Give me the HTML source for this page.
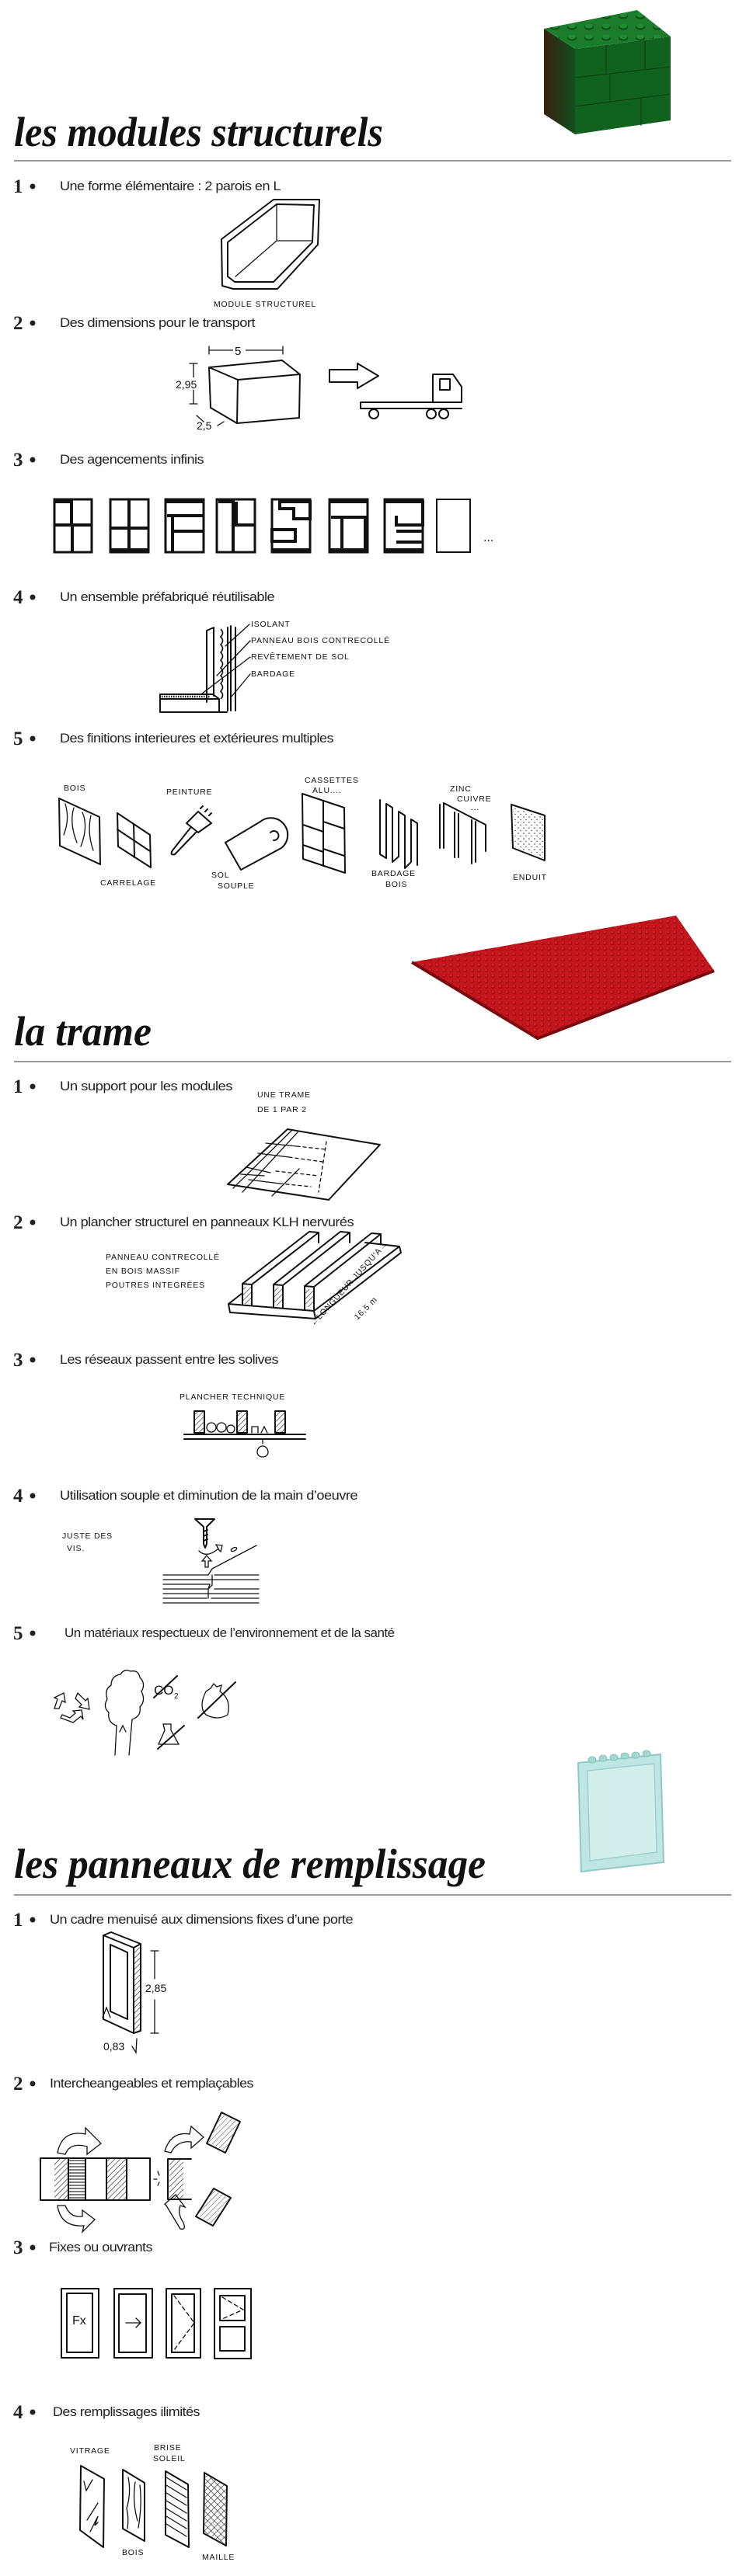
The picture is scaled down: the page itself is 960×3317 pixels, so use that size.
<!DOCTYPE html>
<html><head><meta charset="utf-8">
<style>
html,body{margin:0;padding:0;background:#fff;}
svg{display:block;}
.t{font-family:"Liberation Sans",sans-serif;font-size:17px;fill:#222;letter-spacing:-0.5px;}
.n{font-family:"Liberation Serif",serif;font-weight:bold;font-size:25px;fill:#222;}
.h{font-family:"Liberation Serif",serif;font-style:italic;font-weight:bold;font-size:54px;fill:#111;}
.s{font-family:"Liberation Sans",sans-serif;font-size:10.5px;fill:#111;letter-spacing:0.8px;}
.k{fill:none;stroke:#111;stroke-width:2;stroke-linejoin:round;stroke-linecap:round;}
.k1{fill:none;stroke:#111;stroke-width:1.3;stroke-linecap:round;}
</style></head>
<body>
<svg width="960" height="3317" viewBox="0 0 960 3317" xmlns="http://www.w3.org/2000/svg">
<defs>
<pattern id="gs" width="22" height="14" patternUnits="userSpaceOnUse"><ellipse cx="10" cy="7" rx="6" ry="3.5" fill="#0d4d18"/><ellipse cx="10" cy="5.5" rx="5" ry="3" fill="#1f8a34"/></pattern>
<pattern id="rs" width="9" height="7" patternUnits="userSpaceOnUse"><circle cx="4.5" cy="3.5" r="2.4" fill="#8e0d12"/><circle cx="4.2" cy="3" r="1.8" fill="#d41d24"/></pattern>
<linearGradient id="gl" x1="0" x2="1"><stop offset="0" stop-color="#3a2010"/><stop offset="1" stop-color="#0f4f1c"/></linearGradient>
<pattern id="hat" width="5" height="5" patternUnits="userSpaceOnUse" patternTransform="rotate(45)"><line x1="0" y1="0" x2="0" y2="5" stroke="#111" stroke-width="1.2"/></pattern>
<pattern id="hz" width="5" height="4" patternUnits="userSpaceOnUse"><line x1="0" y1="2" x2="5" y2="2" stroke="#111" stroke-width="1.1"/></pattern>
<pattern id="mesh" width="6" height="6" patternUnits="userSpaceOnUse" patternTransform="rotate(45)"><path d="M0 0V6M0 0H6" stroke="#111" stroke-width="1.2"/></pattern>
<pattern id="dots" width="7" height="7" patternUnits="userSpaceOnUse"><circle cx="2" cy="2" r="0.8" fill="#333"/><circle cx="5" cy="5.5" r="0.7" fill="#333"/></pattern>
</defs>

<!-- ============ SECTION 1 ============ -->
<!-- green brick -->
<polygon points="700,37 740,63 740,173 700,147" fill="url(#gl)"/>
<polygon points="740,63 863,47 863,155 740,173" fill="#12621f"/>
<polygon points="700,37 820,13 863,47 740,63" fill="#1b7d2c"/>
<polygon points="700,37 820,13 863,47 740,63" fill="url(#gs)"/>
<path d="M740,100 L863,86 M740,137 L863,121 M785,95 V132 M830,53 V90 M825,126 V162 M780,58 V96" stroke="#0b3e14" stroke-width="1" fill="none"/>

<text class="h" x="18" y="188" textLength="475" lengthAdjust="spacingAndGlyphs">les modules structurels</text>
<rect x="18" y="206" width="923" height="2" fill="#9a9a9a"/>

<text class="n" x="17" y="248">1</text><circle cx="42" cy="240" r="3.5" fill="#222"/>
<text class="t" x="77" y="245" textLength="284" lengthAdjust="spacingAndGlyphs">Une forme élémentaire : 2 parois en L</text>
<!-- L module -->
<path class="k" d="M285,308 L352,257 L411,257 L409,315 L357,372 L300,372 L286,368 Z"/>
<path class="k" d="M293,312 L356,263 L404,264 L402,312 L352,363 L302,363 L293,356 Z"/>
<path class="k1" d="M356,263 L356,310 L303,356 M356,310 L402,310"/>
<text class="s" x="275" y="395" font-size="9">MODULE STRUCTUREL</text>

<text class="n" x="17" y="424">2</text><circle cx="42" cy="416" r="3.5" fill="#222"/>
<text class="t" x="77" y="421" textLength="251" lengthAdjust="spacingAndGlyphs">Des dimensions pour le transport</text>
<!-- box -->
<path class="k" d="M269,473 L306,489 L386,482 L363,464 Z M269,473 L271,525 L305,545 L385,538 L386,482 M306,489 L305,545"/>
<path class="k1" d="M269,451 H364 M269,446 V456 M364,446 V456 M249,468 V520 M244,468 H254 M244,520 H254 M253,535 L262,543 M280,548 L288,543"/>
<rect x="300" y="442" width="16" height="16" fill="#fff"/>
<text x="302" y="457" font-family="Liberation Sans" font-size="15" fill="#111">5</text>
<rect x="228" y="486" width="36" height="16" fill="#fff"/>
<text x="226" y="500" font-family="Liberation Sans" font-size="14" fill="#111">2,95</text>
<text x="253" y="553" font-family="Liberation Sans" font-size="14" fill="#111">2,5</text>
<!-- arrow -->
<path class="k" d="M424,476 H460 V468 L487,484 L460,500 V492 H424 Z"/>
<!-- truck -->
<path class="k" d="M464,518 H594 V498 L583,482 H557 V518 M464,518 L464,526 H594 M566,488 H579 V502 H566 Z"/>
<circle class="k" cx="481" cy="533" r="6"/><circle class="k" cx="555" cy="533" r="6"/><circle class="k" cx="571" cy="533" r="6"/>

<text class="n" x="17" y="600">3</text><circle cx="42" cy="592" r="3.5" fill="#222"/>
<text class="t" x="77" y="597" textLength="185" lengthAdjust="spacingAndGlyphs">Des agencements infinis</text>
<!-- module arrangements -->
<g stroke="#111" stroke-width="3" fill="none">
<rect x="70" y="643" width="48" height="68"/><path d="M70,646 H92 V676 H70 M93,676 V711 M92,676 H118" stroke-width="4"/>
<rect x="142" y="643" width="49" height="68"/><path d="M166,643 V711 M142,680 H191 M142,708 H191" stroke-width="4"/>
<rect x="213" y="643" width="49" height="68"/><path d="M213,646 H262 M215,664 H262 M222,664 V711 M222,684 H262" stroke-width="4"/>
<rect x="279" y="643" width="49" height="68"/><path d="M281,646 H300 V711 M300,676 H328 M304,646 V676" stroke-width="4"/>
<rect x="350" y="643" width="49" height="68"/><path d="M360,646 H399 V668 H378 V655 H360 Z M350,682 H380 V697 H350 Z M350,708 H399" stroke-width="4"/>
<rect x="424" y="643" width="49" height="68"/><path d="M424,646 H473 M426,666 H470 V711 M440,666 V706 M424,708 H473" stroke-width="4"/>
<rect x="495" y="643" width="49" height="68"/><path d="M495,646 H544 V676 H510 V664 M510,684 H544 M510,698 H544 M495,708 H544" stroke-width="4"/>
<rect x="562" y="643" width="43" height="68" stroke-width="2"/>
</g>
<text x="622" y="697" font-family="Liberation Sans" font-size="16" fill="#111">...</text>

<text class="n" x="17" y="777">4</text><circle cx="42" cy="769" r="3.5" fill="#222"/>
<text class="t" x="77" y="774" textLength="276" lengthAdjust="spacingAndGlyphs">Un ensemble préfabriqué réutilisable</text>
<!-- wall detail -->
<path class="k" d="M266,812 V904 M275,808 V896 M293,808 V915 M297,806 V915 M303,808 V915 M266,812 L275,808"/>
<path d="M284,810 q5,5 0,10 q5,5 0,10 q5,5 0,10 q5,5 0,10 q5,5 0,10 q5,5 0,10 q5,5 0,10 q5,5 0,10 q5,5 0,10" stroke="#111" stroke-width="1.6" fill="none"/>
<path class="k" d="M206,894 H274 M206,900 H282 M206,917 H292 M206,894 V917 M274,894 L282,900 V917"/>
<path d="M208,897 H270" stroke="#111" stroke-width="2.5" stroke-dasharray="1.5 1.5"/>
<path class="k1" d="M321,804 L290,832 M322,825 L279,870 M322,846 L260,893 M322,868 L297,898"/>
<text class="s" x="323" y="807">ISOLANT</text>
<text class="s" x="323" y="828">PANNEAU BOIS CONTRECOLLÉ</text>
<text class="s" x="323" y="849">REVÊTEMENT DE SOL</text>
<text class="s" x="323" y="871">BARDAGE</text>

<text class="n" x="17" y="959">5</text><circle cx="42" cy="951" r="3.5" fill="#222"/>
<text class="t" x="77" y="956" textLength="352" lengthAdjust="spacingAndGlyphs">Des finitions interieures et extérieures multiples</text>
<!-- finishes -->
<text class="s" x="82" y="1018">BOIS</text>
<path class="k" d="M76,1028 L128,1052 L129,1113 L77,1089 Z"/>
<path class="k1" d="M84,1035 q6,20 -2,40 M95,1040 q-6,20 4,45 M106,1046 q8,18 -2,44 M117,1050 q-5,22 3,45"/>
<path class="k" d="M151,1047 L193,1075 L194,1117 L152,1090 Z M151,1068 L193,1096 M172,1061 L173,1104"/>
<text class="s" x="129" y="1140">CARRELAGE</text>
<text class="s" x="214" y="1023">PEINTURE</text>
<path class="k" d="M255,1045 L272,1060 L255,1072 L240,1060 Z M245,1066 L222,1095 Q218,1102 225,1100 L252,1072 M258,1041 l3,-3 M264,1045 l3,-3 M269,1050 l3,-3"/>
<path class="k" d="M290,1085 L335,1058 M310,1120 L362,1092 M290,1085 L310,1120 M335,1058 A14,14 0 1 1 362,1092 M348,1072 a6,6 0 1 1 4,10"/>
<text class="s" x="272" y="1130">SOL</text><text class="s" x="280" y="1144">SOUPLE</text>
<text class="s" x="392" y="1008">CASSETTES</text><text class="s" x="402" y="1021">ALU....</text>
<path class="k" d="M389,1022 L443,1040 L444,1124 L390,1106 Z M416,1031 V1115 M390,1062 L416,1071 M416,1058 L443,1067 M390,1088 L416,1097 M416,1093 L443,1102"/>
<path class="k" d="M489,1030 V1100 L497,1105 V1035 L505,1040 V1110 L513,1103 V1045 L521,1050 V1118 L529,1110 V1055 L537,1060 V1114"/>
<text class="s" x="478" y="1128">BARDAGE</text><text class="s" x="496" y="1142">BOIS</text>
<text class="s" x="579" y="1019">ZINC</text><text class="s" x="588" y="1032">CUIVRE</text><text class="s" x="606" y="1043">...</text>
<path class="k" d="M566,1036 V1092 M571,1034 V1092 M571,1034 L625,1062 M585,1046 V1104 M590,1048 V1104 M607,1056 V1112 M612,1058 V1110 M625,1062 V1096"/>
<path class="k" d="M658,1036 L701,1050 L701,1108 L660,1092 Z"/>
<path d="M660,1040 L699,1052 L699,1105 L662,1090 Z" fill="url(#dots)"/>
<text class="s" x="660" y="1133">ENDUIT</text>

<!-- ============ SECTION 2 ============ -->
<polygon points="530,1239 870,1179 919,1250 692,1337" fill="#c4151c"/>
<polygon points="530,1239 870,1179 919,1250 692,1337" fill="url(#rs)"/>
<path d="M530,1239 L692,1337 L919,1250" stroke="#7a0a0e" stroke-width="4" fill="none"/>

<text class="h" x="18" y="1346" textLength="177" lengthAdjust="spacingAndGlyphs">la trame</text>
<rect x="18" y="1366" width="923" height="2" fill="#9a9a9a"/>

<text class="n" x="17" y="1407">1</text><circle cx="42" cy="1399" r="3.5" fill="#222"/>
<text class="t" x="77" y="1404" textLength="222" lengthAdjust="spacingAndGlyphs">Un support pour les modules</text>
<text class="s" x="331" y="1413">UNE TRAME</text>
<text class="s" x="331" y="1432">DE 1 PAR 2</text>
<path class="k" d="M293,1525 L370,1454 L489,1474 L423,1545 Z"/>
<path class="k1" d="M300,1530 L376,1455 M312,1535 L383,1458 M350,1540 L385,1505 M342,1472 L382,1476 M332,1485 L372,1490 M317,1503 L348,1510 M310,1512 L340,1514 M320,1519 L360,1524"/>
<path class="k1" stroke-dasharray="4 4" d="M382,1476 L420,1480 M372,1490 L415,1496 M355,1508 L410,1514 M360,1524 L400,1528 M420,1470 L410,1535"/>

<text class="n" x="17" y="1582">2</text><circle cx="42" cy="1574" r="3.5" fill="#222"/>
<text class="t" x="77" y="1579" textLength="378" lengthAdjust="spacingAndGlyphs">Un plancher structurel en panneaux KLH nervurés</text>
<text class="s" x="136" y="1622">PANNEAU CONTRECOLLÉ</text>
<text class="s" x="136" y="1640">EN BOIS MASSIF</text>
<text class="s" x="136" y="1658">POUTRES INTEGRÉES</text>
<path class="k" d="M294,1679 L404,1688 L514,1605 L470,1600 M294,1679 L296,1690 L406,1698 L516,1613 L514,1605 M404,1688 L406,1698 M294,1679 L312,1665"/>
<path class="k" d="M312,1680 V1653 L398,1586 L410,1587 L324,1654 V1681 M324,1654 L312,1653 M410,1587 V1600"/>
<path class="k" d="M352,1683 V1654 L438,1586 L450,1587 L364,1655 V1684 M364,1655 L352,1654 M450,1587 V1600"/>
<path class="k" d="M392,1686 V1656 L478,1588 L490,1589 L404,1657 V1686 M404,1657 L392,1656 M490,1589 V1601"/>
<path d="M313,1657 h10 v22 h-10 z M353,1658 h10 v23 h-10 z M393,1660 h10 v23 h-10 z" fill="url(#hat)"/>
<text class="s" transform="translate(404,1708) rotate(-48)">←LONGUEUR JUSQU'A→</text>
<text class="s" font-size="13" transform="translate(460,1700) rotate(-45)">16,5 m</text>

<text class="n" x="17" y="1759">3</text><circle cx="42" cy="1751" r="3.5" fill="#222"/>
<text class="t" x="77" y="1756" textLength="281" lengthAdjust="spacingAndGlyphs">Les réseaux passent entre les solives</text>
<text class="s" x="231" y="1802">PLANCHER TECHNIQUE</text>
<rect class="k" x="250" y="1817" width="13" height="28"/><rect class="k" x="305" y="1817" width="13" height="28"/><rect class="k" x="354" y="1817" width="13" height="28"/>
<path d="M251,1818 h11 v26 h-11 z M306,1818 h11 v26 h-11 z M355,1818 h11 v26 h-11 z" fill="url(#hat)"/>
<circle class="k1" cx="272" cy="1838" r="6"/><circle class="k1" cx="285" cy="1838" r="6"/><circle class="k1" cx="297" cy="1840" r="5"/>
<path class="k1" d="M324,1845 v-8 h8 v8 M336,1845 l4,-8 l4,8"/>
<path class="k" d="M237,1847 H393 M237,1853 H393"/>
<path class="k1" d="M338,1853 v6 M331,1870 a7,8 0 1 1 14,0 a7,6 0 0 1 -14,0"/>

<text class="n" x="17" y="1934">4</text><circle cx="42" cy="1926" r="3.5" fill="#222"/>
<text class="t" x="77" y="1931" textLength="383" lengthAdjust="spacingAndGlyphs">Utilisation souple et diminution de la main d’oeuvre</text>
<text class="s" x="80" y="1981">JUSTE DES</text><text class="s" x="86" y="1997">VIS.</text>
<path class="k" d="M251,1956 H276 L266,1966 V1988 L264,1993 L262,1988 V1966 Z M262,1972 l5,-2 M262,1978 l5,-2 M262,1984 l5,-2"/>
<path class="k1" d="M256,1997 q10,10 25,-3 l-3,-5 l8,1 l-2,8 l-3,-3"/>
<ellipse class="k1" cx="301" cy="1995" rx="4" ry="2" transform="rotate(-25 301 1995)"/>
<path class="k1" d="M264,2018 v-8 h-4 l6,-7 l6,7 h-4 v8 z"/>
<path class="k1" d="M210,2028 H268 L273,2020 L330,1990 M276,2028 H333 M210,2034 H333 M210,2040 H270 L268,2046 H210 M276,2046 H333 M210,2052 H333 M210,2058 H266 M272,2058 H333 M210,2064 H333 M273,2028 V2041 L268,2046 V2058"/>

<text class="n" x="17" y="2111">5</text><circle cx="42" cy="2103" r="3.5" fill="#222"/>
<text class="t" x="83" y="2108">Un matériaux respectueux de l’environnement et de la santé</text>
<!-- eco icons -->
<path class="k1" d="M70,2200 l4,-12 l-4,-2 l12,-6 l2,12 l-4,-2 l-4,10 z M100,2180 l10,10 l3,-3 l2,14 l-13,-3 l3,-3 l-8,-8 z M78,2212 l16,6 l10,-8 l3,4 l-2,-12 l-11,1 l3,3 l-7,6 l-10,-4 z"/>
<path class="k1" d="M148,2260 L150,2222 Q138,2218 140,2205 Q132,2198 138,2188 Q134,2175 143,2170 Q143,2158 155,2156 Q160,2148 168,2152 Q178,2150 180,2160 Q188,2168 182,2178 Q188,2190 180,2198 Q182,2210 170,2214 L166,2260 M154,2230 l4,-8 l4,8"/>
<text x="198" y="2182" font-family="Liberation Sans" font-size="17" fill="#111">CO</text><text x="224" y="2187" font-family="Liberation Sans" font-size="10" fill="#111">2</text>
<path class="k" d="M198,2186 L228,2158"/>
<path class="k1" d="M265,2178 q-10,20 0,30 q15,8 28,0 q5,-20 -10,-30 l2,-8 l-6,2 l-4,-4 l-4,6 z"/>
<path class="k" d="M255,2212 L303,2166"/>
<path class="k1" d="M210,2220 h10 v8 l10,18 h-26 l8,-18 z"/>
<path class="k" d="M203,2252 L237,2222"/>

<!-- ============ SECTION 3 ============ -->
<polygon points="744,2270 850,2259 854,2398 748,2410" fill="#bfe6e2" stroke="#8fcac4" stroke-width="2"/>
<polygon points="756,2280 842,2271 845,2385 759,2396" fill="#d3efec" stroke="#9dd2cc" stroke-width="1.5"/>
<g fill="#a4d8d2" stroke="#86c2bc" stroke-width="1"><ellipse cx="762" cy="2266" rx="5" ry="4"/><ellipse cx="776" cy="2264" rx="5" ry="4"/><ellipse cx="790" cy="2263" rx="5" ry="4"/><ellipse cx="804" cy="2261" rx="5" ry="4"/><ellipse cx="818" cy="2260" rx="5" ry="4"/><ellipse cx="832" cy="2258" rx="5" ry="4"/></g>

<text class="h" x="18" y="2418" textLength="607" lengthAdjust="spacingAndGlyphs">les panneaux de remplissage</text>
<rect x="18" y="2439" width="923" height="2" fill="#9a9a9a"/>

<text class="n" x="17" y="2480">1</text><circle cx="42" cy="2472" r="3.5" fill="#222"/>
<text class="t" x="64" y="2477" textLength="390" lengthAdjust="spacingAndGlyphs">Un cadre menuisé aux dimensions fixes d’une porte</text>
<path class="k" d="M133,2492 L172,2508 L172,2618 L133,2600 Z M142,2504 L164,2514 L164,2600 L142,2590 Z M172,2508 L181,2503 V2615 L172,2618 M133,2492 L143,2488 L181,2503"/>
<path d="M173,2509 L180,2505 V2614 L173,2617 Z" fill="url(#hat)"/>
<path class="k1" d="M194,2512 H204 M199,2512 V2548 M199,2575 V2618 M194,2618 H204 M132,2598 L137,2585 L142,2598 M176,2625 L175,2643 L170,2635"/>
<text x="187" y="2565" font-family="Liberation Sans" font-size="14" fill="#111">2,85</text>
<text x="133" y="2640" font-family="Liberation Sans" font-size="14" fill="#111">0,83</text>

<text class="n" x="17" y="2691">2</text><circle cx="42" cy="2683" r="3.5" fill="#222"/>
<text class="t" x="64" y="2688" textLength="262" lengthAdjust="spacingAndGlyphs">Intercheangeables et remplaçables</text>
<path class="k" d="M52,2779 H193 M52,2833 H193 M52,2779 V2833 M193,2779 V2833 M88,2779 V2833 M110,2779 V2833 M137,2779 V2833 M163,2779 V2833"/>
<rect x="70" y="2780" width="18" height="52" fill="url(#hat)"/><rect x="88" y="2780" width="22" height="52" fill="url(#hz)"/><rect x="137" y="2780" width="26" height="52" fill="url(#hat)"/>
<path class="k" d="M216,2780 V2832 M216,2780 H246 M216,2832 H246"/>
<rect x="218" y="2781" width="18" height="50" fill="url(#hat)"/>
<path class="k1" d="M203,2796 l2,5 M198,2806 l4,0 M203,2814 l2,-4"/>
<path class="k1" d="M74,2772 Q80,2742 110,2748 L110,2740 L130,2760 L112,2774 L112,2764 Q90,2758 84,2774 Z"/>
<path class="k1" d="M74,2840 Q78,2868 108,2866 L106,2874 L122,2858 L106,2846 L106,2854 Q90,2856 84,2840 Z"/>
<path class="k1" d="M212,2770 Q220,2744 244,2748 L246,2738 L262,2752 L246,2766 L246,2758 Q228,2756 220,2772 Z"/>
<path class="k1" d="M214,2840 L232,2870 Q240,2872 236,2862 Q228,2850 232,2840 L238,2842 L226,2826 L212,2838 Z"/>
<path class="k" d="M285,2720 L309,2732 L290,2772 L266,2760 Z"/>
<path d="M285,2722 L307,2733 L290,2770 L268,2759 Z" fill="url(#hat)" opacity="0.7"/>
<path class="k" d="M275,2818 L297,2830 L274,2866 L252,2854 Z"/>
<path d="M275,2820 L295,2831 L274,2864 L254,2853 Z" fill="url(#hat)" opacity="0.7"/>

<text class="n" x="17" y="2902">3</text><circle cx="42" cy="2894" r="3.5" fill="#222"/>
<text class="t" x="63" y="2899" textLength="133" lengthAdjust="spacingAndGlyphs">Fixes ou ouvrants</text>
<rect class="k" x="79" y="2947" width="48" height="89"/><rect class="k" x="86" y="2953" width="33" height="76"/>
<text x="93" y="2993" font-family="Liberation Sans" font-size="16" fill="#111">Fx</text>
<rect class="k" x="147" y="2947" width="49" height="89"/><rect class="k" x="153" y="2954" width="35" height="75"/>
<path class="k1" d="M162,2991 H180 M175,2985 L181,2991 L175,2997"/>
<rect class="k" x="214" y="2947" width="44" height="89"/><rect class="k" x="221" y="2954" width="29" height="75"/>
<path class="k1" stroke-dasharray="5 4" d="M224,2956 L250,2991 L224,3026"/>
<rect class="k" x="276" y="2947" width="47" height="90"/><rect class="k" x="283" y="2956" width="32" height="32"/><rect class="k" x="283" y="2996" width="32" height="31"/>
<path class="k1" stroke-dasharray="5 4" d="M286,2958 L313,2974 L286,2986"/>

<text class="n" x="17" y="3114">4</text><circle cx="42" cy="3106" r="3.5" fill="#222"/>
<text class="t" x="68" y="3111" textLength="189" lengthAdjust="spacingAndGlyphs">Des remplissages ilimités</text>
<text class="s" x="90" y="3159">VITRAGE</text>
<text class="s" x="198" y="3155">BRISE</text><text class="s" x="197" y="3169">SOLEIL</text>
<path class="k" d="M104,3175 L134,3192 L133,3280 L103,3258 Z"/>
<path class="k1" d="M108,3195 l3,12 l8,-14 M112,3245 l14,-22 M116,3260 l10,-20 l-4,12 l4,-4"/>
<path class="k" d="M158,3180 L186,3197 L186,3272 L158,3256 Z"/>
<path class="k1" d="M165,3190 q4,20 -2,40 q3,12 1,26 M174,3196 q-4,25 3,50 M180,3200 q3,25 -2,55"/>
<text class="s" x="157" y="3290">BOIS</text>
<path class="k" d="M213,3182 L242,3199 L243,3280 L213,3264 Z"/>
<path class="k1" d="M214,3190 L240,3206 M214,3200 L240,3216 M214,3210 L240,3226 M214,3220 L240,3236 M214,3230 L240,3246 M214,3240 L240,3256 M214,3250 L240,3266"/>
<path class="k" d="M263,3184 L292,3201 L291,3278 L262,3262 Z"/>
<path d="M264,3186 L291,3202 L290,3276 L263,3261 Z" fill="url(#mesh)"/>
<text class="s" x="260" y="3296">MAILLE</text>
</svg>
</body></html>
